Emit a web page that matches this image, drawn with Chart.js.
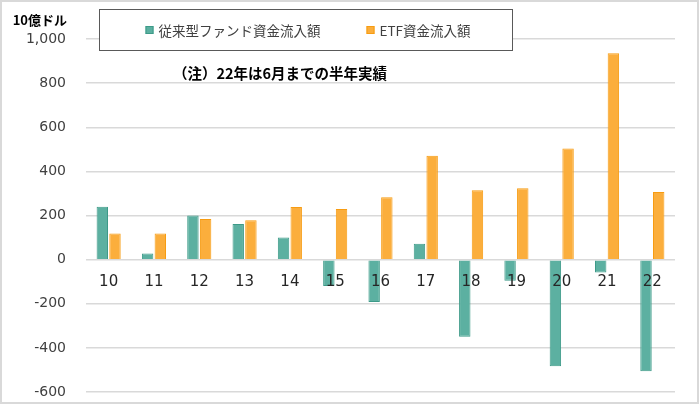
<!DOCTYPE html>
<html><head><meta charset="utf-8">
<script src="https://cdn.jsdelivr.net/npm/chart.js@4"></script>
<style>html,body{margin:0;padding:0;background:#fff}#wrap{width:700px;height:404px;position:relative}</style>
</head><body><div id="wrap"><canvas id="c" width="700" height="404"></canvas></div>
<script>
const categories = ['10','11','12','13','14','15','16','17','18','19','20','21','22'];
const traditionalFlows = [240, 28, 200, 161, 100, -120, -192, 72, -350, -96, -483, -58, -506];
const etfFlows = [118, 118, 184, 179, 239, 229, 283, 471, 314, 324, 504, 935, 306];
const seriesNames = ['従来型ファンド資金流入額', 'ETF資金流入額'];
const yTicks = [-600, -400, -200, 0, 200, 400, 600, 800, 1000];
const unitLabel = '10億ドル';
const noteText = '（注）22年は6月までの半年実績';

const CJK = '"Noto Sans CJK JP", "Noto Sans", sans-serif';

const decorPlugin = {
  id: 'decor',
  beforeDraw(chart) {
    const ctx = chart.ctx;
    ctx.save();
    ctx.fillStyle = '#ffffff';
    ctx.fillRect(0, 0, chart.width, chart.height);
    ctx.restore();
  },
  afterDraw(chart) {
    const ctx = chart.ctx;
    ctx.save();
    ctx.strokeStyle = '#d9d9d9';
    ctx.lineWidth = 2;
    ctx.strokeRect(1, 1, 697, 402);
    ctx.fillStyle = '#000';
    ctx.font = 'bold 13px ' + CJK;
    ctx.textAlign = 'right';
    ctx.textBaseline = 'middle';
    ctx.fillText(unitLabel, 67, 20);
    ctx.font = 'bold 14.5px ' + CJK;
    ctx.textAlign = 'center';
    ctx.fillText(noteText, 280, 73);
    ctx.fillStyle = '#fff';
    ctx.fillRect(99.5, 9.5, 413, 41);
    ctx.strokeStyle = '#595959';
    ctx.lineWidth = 1;
    ctx.strokeRect(99.5, 9.5, 413, 41);
    ctx.font = '13.5px ' + CJK;
    ctx.textBaseline = 'middle';
    ctx.textAlign = 'left';
    const ds = chart.data.datasets;
    const box = 8, gapText = 5, gapItem = 46;
    const widths = ds.map(d => ctx.measureText(d.label).width);
    let total = 0;
    widths.forEach((w, i) => { total += box + gapText + w + (i ? gapItem : 0); });
    let x = 308 - total / 2;
    const yc = 30;
    ds.forEach((d, i) => {
      ctx.fillStyle = d.backgroundColor;
      ctx.fillRect(x, yc - box / 2, box, box);
      ctx.strokeStyle = d.borderColor;
      ctx.strokeRect(x + 0.5, yc - box / 2 + 0.5, box - 1, box - 1);
      ctx.fillStyle = '#404040';
      ctx.fillText(d.label, x + box + gapText, yc + 1);
      x += box + gapText + widths[i] + gapItem;
    });
    ctx.restore();
  }
};

new Chart(document.getElementById('c'), {
  type: 'bar',
  data: {
    labels: categories,
    datasets: [
      { label: seriesNames[0], data: traditionalFlows, backgroundColor: '#5cb0a1', borderColor: '#3d9a88', borderWidth: 1 },
      { label: seriesNames[1], data: etfFlows, backgroundColor: '#fbae3c', borderColor: '#f79c12', borderWidth: 1 }
    ]
  },
  options: {
    responsive: false,
    animation: false,
    devicePixelRatio: 1,
    categoryPercentage: 0.56,
    barPercentage: 0.9,
    layout: { padding: { left: 0, right: 25, top: 39, bottom: 12 } },
    plugins: { legend: { display: false }, tooltip: { enabled: false } },
    scales: {
      x: {
        type: 'category',
        position: { y: 0 },
        afterFit: s => { s.height = 0; s.paddingLeft = 0; s.paddingRight = 0; },
        grid: { display: false, drawTicks: false },
        border: { display: false },
        ticks: { z: 1, color: '#262626', font: { family: '"DejaVu Sans", Verdana, sans-serif', size: 15 }, padding: 13, maxRotation: 0 }
      },
      y: {
        min: -600, max: 1000,
        afterBuildTicks: s => { s.ticks = yTicks.map(v => ({ value: v })); },
        afterFit: s => { s.width = 86; s.paddingTop = 0; s.paddingBottom = 0; },
        grid: { color: '#d9d9d9', lineWidth: 1.5, drawTicks: false },
        border: { display: false },
        ticks: {
          color: '#404040',
          padding: 20,
          font: { family: '"DejaVu Sans", Verdana, sans-serif', size: 14 },
          callback: v => Number(v).toLocaleString('en-US')
        }
      }
    }
  },
  plugins: [decorPlugin]
});
</script>
</body></html>
